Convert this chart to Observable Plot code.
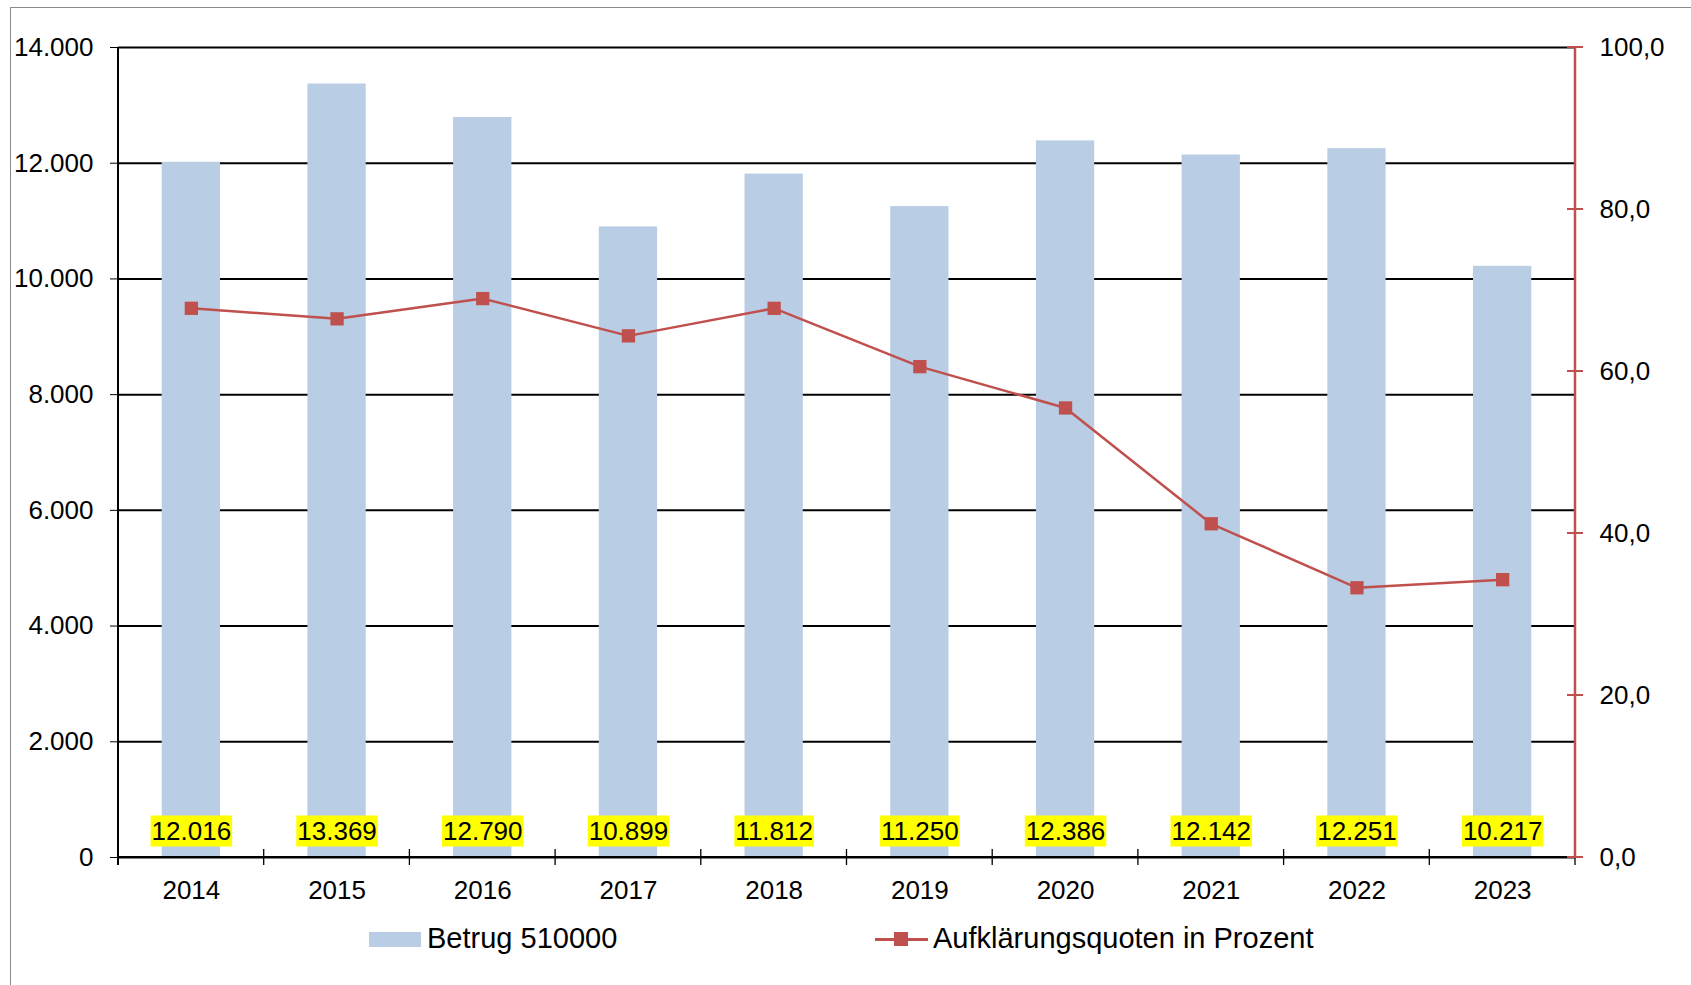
<!DOCTYPE html>
<html>
<head>
<meta charset="utf-8">
<script src="https://cdn.jsdelivr.net/npm/d3@7"></script>
<script src="https://cdn.jsdelivr.net/npm/@observablehq/plot@0.6"></script>
<style>
  html, body { margin: 0; padding: 0; background: #fff; overflow: hidden; }
  #wrap { position: relative; width: 1691px; height: 985px; font-family: "Liberation Sans", Arial, sans-serif; }
  #frame { position: absolute; left: 10px; top: 7px; right: 0; bottom: 0; border-left: 1.5px solid #8a8a8a; border-top: 1.5px solid #8a8a8a; pointer-events: none; }
  #chart { position: absolute; left: 0; top: 0; }
  .leg { position: absolute; font-size: 29px; line-height: 34px; color: #000; white-space: nowrap; }
</style>
</head>
<body>
<div id="wrap">
  <div id="chart"></div>
  <div id="frame"></div>
  <div style="position:absolute;left:369px;top:932px;width:52px;height:15px;background:#B9CDE5"></div>
  <div class="leg" style="left:427px;top:921px">Betrug 510000</div>
  <div style="position:absolute;left:875px;top:938px;width:53px;height:2.5px;background:#C0504D"></div>
  <div style="position:absolute;left:894px;top:932px;width:14px;height:14px;background:#C0504D"></div>
  <div class="leg" style="left:933px;top:921px">Aufklärungsquoten in Prozent</div>
</div>
<script>
const years = ["2014","2015","2016","2017","2018","2019","2020","2021","2022","2023"];
const cases = [12016, 13369, 12790, 10899, 11812, 11250, 12386, 12142, 12251, 10217];
const quotes = [67.8, 66.5, 69.0, 64.4, 67.8, 60.6, 55.5, 41.2, 33.3, 34.3];
const leftTicks = [0, 2000, 4000, 6000, 8000, 10000, 12000, 14000];
const rightTicks = [0, 20, 40, 60, 80, 100];
const leftMax = 14000, rightMax = 100;
const ratio = leftMax / rightMax;

const data = years.map((y, i) => ({year: y, cases: cases[i], q: quotes[i]}));
const deFmt = d => d3.format(",")(d).replace(/,/g, ".");
const rFmt = d => (d / ratio).toFixed(1).replace(".", ",");

const W = 1691, H = 910;
const M = {top: 47, right: 116, bottom: 53, left: 118};
const RED = "#C0504D";

function axesLines(index, scales, values, dims) {
  const {width, height, marginLeft: L, marginRight: R, marginTop: T, marginBottom: B} = dims;
  const g = d3.create("svg:g");
  const n = years.length;
  const step = (width - L - R) / n;
  g.append("line").attr("x1", L).attr("x2", width - R).attr("y1", height - B).attr("y2", height - B)
    .attr("stroke", "#000").attr("stroke-width", 2);
  for (let i = 0; i <= n; i++) {
    const x = L + i * step;
    g.append("line").attr("x1", x).attr("x2", x).attr("y1", height - B - 8).attr("y2", height - B + 8)
      .attr("stroke", "#000").attr("stroke-width", 1.3);
  }
  g.append("line").attr("x1", L).attr("x2", L).attr("y1", T).attr("y2", height - B + 8)
    .attr("stroke", "#000").attr("stroke-width", 2);
  g.append("line").attr("x1", width - R).attr("x2", width - R).attr("y1", T).attr("y2", height - B)
    .attr("stroke", RED).attr("stroke-width", 2.5);
  for (const t of rightTicks) {
    const y = scales.y(t * ratio);
    g.append("line").attr("x1", width - R - 8).attr("x2", width - R + 8).attr("y1", y).attr("y2", y)
      .attr("stroke", RED).attr("stroke-width", 2);
  }
  return g.node();
}

const plot = Plot.plot({
  width: W,
  height: H,
  marginTop: M.top, marginRight: M.right, marginBottom: M.bottom, marginLeft: M.left,
  style: {fontFamily: '"Liberation Sans", Arial, sans-serif', fontSize: "26px", color: "#000", background: "transparent"},
  x: {domain: years, paddingInner: 0.6, paddingOuter: 0.3, round: false, label: null},
  y: {domain: [0, leftMax], label: null},
  marks: [
    Plot.gridY(leftTicks, {stroke: "#000", strokeOpacity: 1, strokeWidth: 2}),
    Plot.barY(data, {x: "year", y: "cases", fill: "#B9CDE5"}),
    Plot.line(data, {x: "year", y: d => d.q * ratio, stroke: RED, strokeWidth: 2.5}),
    Plot.dot(data, {x: "year", y: d => d.q * ratio, symbol: "square", r: 7.5, fill: RED, stroke: "none"}),
    Plot.text(data, {x: "year", text: d => deFmt(d.cases), frameAnchor: "bottom", dy: -18, fontSize: 26, fill: "#000"}),
    Plot.axisY(leftTicks, {anchor: "left", tickSize: 8, tickPadding: 17, tickFormat: deFmt, fontSize: 26, stroke: "#000", label: null}),
    Plot.axisY(rightTicks.map(t => t * ratio), {anchor: "right", tickSize: 0, tickPadding: 24, tickFormat: rFmt, fontSize: 26, label: null}),
    Plot.axisX({tickSize: 0, tickPadding: 23, fontSize: 26, label: null}),
    axesLines
  ]
});

document.getElementById("chart").appendChild(plot);

plot.querySelectorAll('g[aria-label="text"] text').forEach(t => {
  const b = t.getBBox();
  const r = document.createElementNS("http://www.w3.org/2000/svg", "rect");
  r.setAttribute("x", b.x - 1);
  r.setAttribute("y", b.y);
  r.setAttribute("width", b.width + 2);
  r.setAttribute("height", b.height + 1);
  r.setAttribute("fill", "#FFFF00");
  if (t.getAttribute("transform")) r.setAttribute("transform", t.getAttribute("transform"));
  t.parentNode.insertBefore(r, t);
});
</script>
</body>
</html>
